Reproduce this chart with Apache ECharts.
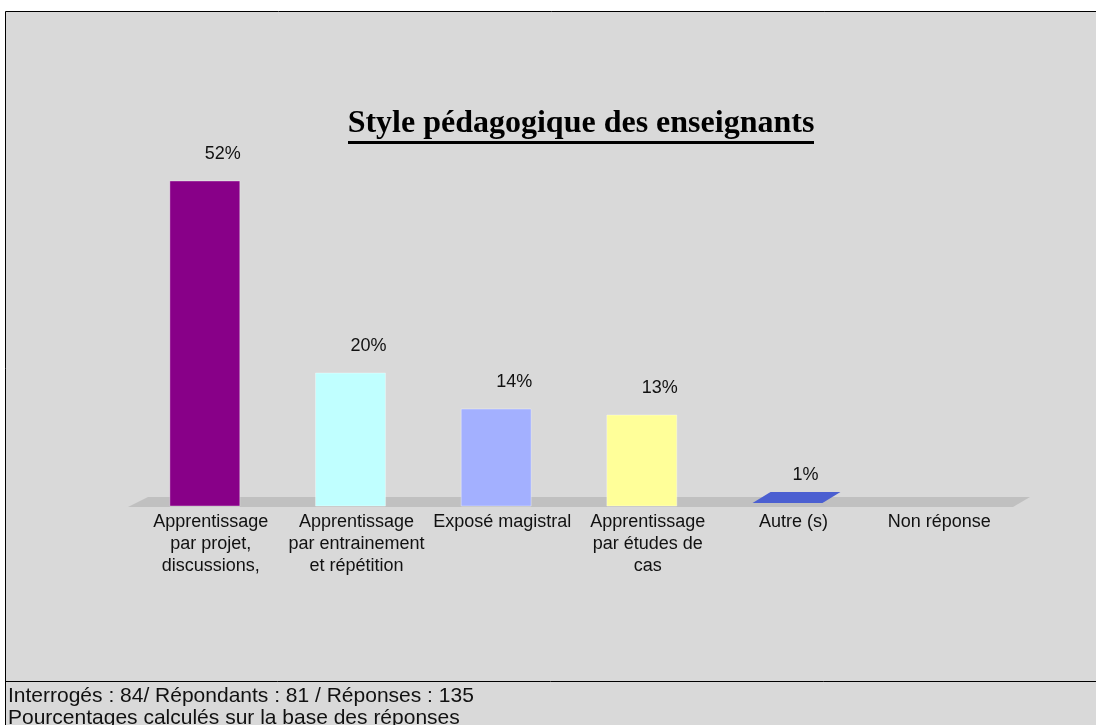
<!DOCTYPE html>
<html>
<head>
<meta charset="utf-8">
<title>Style pédagogique des enseignants</title>
<script src="https://cdn.jsdelivr.net/npm/echarts@6/dist/echarts.min.js"></script>
<style>
  html, body { margin: 0; padding: 0; background: #ffffff; }
  #main { width: 1096px; height: 725px; }
</style>
</head>
<body>
<div id="main"></div>
<script>
// données
const categories = [
  'Apprentissage\npar projet,\ndiscussions,',
  'Apprentissage\npar entrainement\net répétition',
  'Exposé magistral',
  'Apprentissage\npar études de\ncas',
  'Autre (s)',
  'Non réponse'
]
const values = [52, 20, 14, 13, 1, 0]
const barColors = ['#880088', '#c0ffff', '#a3b0ff', '#ffff99', '#4b5fd1', '#999999']
const footerLines = [
  'Interrogés : 84/ Répondants : 81 / Réponses : 135',
  'Pourcentages calculés sur la base des réponses'
]

const chart = echarts.init(document.getElementById('main'))

function renderBar (params, api) {
  const i = api.value(0)
  const v = api.value(1)
  if (!v) return
  const top = api.coord([i, v])
  const base = api.coord([i, 0])
  const w = api.size([1, 0])[0] * 0.48
  const x0 = top[0] - w / 2
  const x1 = top[0] + w / 2
  const front = base[1] + 13
  const color = barColors[i]
  const children = []
  let labelY
  if (v >= 2) {
    // face avant
    children.push({
      type: 'rect',
      shape: { x: x0, y: top[1], width: w, height: front - top[1] },
      style: { fill: color, stroke: 'rgba(255,255,255,0.35)', lineWidth: 1 }
    })
    labelY = top[1] - 27
  } else {
    // petite valeur : seulement la face du dessus
    const yb = base[1] + 10
    const yt = top[1] + 5
    children.push({
      type: 'polygon',
      shape: { points: [[x0, yb], [x1, yb], [x1 + 18, yt], [x0 + 18, yt]] },
      style: { fill: color }
    })
    labelY = yt - 17
  }
  children.push({
    type: 'text',
    style: {
      x: top[0] + 18,
      y: labelY,
      text: v + '%',
      align: 'center',
      verticalAlign: 'middle',
      fontSize: 18,
      fontFamily: 'Liberation Sans, Arial, sans-serif',
      fill: '#111111'
    }
  })
  return { type: 'group', children: children }
}

chart.setOption({
  backgroundColor: '#ffffff',
  animation: false,
  grid: { left: 132, right: 90, top: 133, bottom: 232 },
  xAxis: {
    type: 'category',
    data: categories,
    axisLine: { show: false },
    axisTick: { show: false },
    axisLabel: {
      interval: 0,
      margin: 18,
      padding: [0, 0, 0, 12],
      fontSize: 18,
      lineHeight: 22,
      color: '#111111',
      fontFamily: 'Liberation Sans, Arial, sans-serif',
      verticalAlign: 'top'
    }
  },
  yAxis: {
    type: 'value',
    min: 0,
    max: 60,
    show: false
  },
  graphic: [
    {
      // fond + cadre
      type: 'rect',
      z: -10,
      shape: { x: 5.5, y: 11.5, width: 1120, height: 740 },
      style: { fill: '#d9d9d9', stroke: '#000000', lineWidth: 1 }
    },
    {
      type: 'line',
      z: -9,
      shape: { x1: 5, y1: 681.5, x2: 1096, y2: 681.5 },
      style: { stroke: '#000000', lineWidth: 1 }
    },
    {
      // plancher 3D
      type: 'polygon',
      z: -5,
      shape: { points: [[128, 507], [1013, 507], [1030, 497], [148, 497]] },
      style: { fill: '#c0c0c0' }
    },
    {
      type: 'text',
      z: 1,
      style: {
        x: 581,
        y: 124,
        text: 'Style pédagogique des enseignants',
        align: 'center',
        verticalAlign: 'middle',
        fontSize: 32,
        fontWeight: 'bold',
        fontFamily: 'Liberation Serif, Times New Roman, serif',
        fill: '#000000'
      }
    },
    {
      type: 'rect',
      z: 1,
      shape: { x: 348, y: 141, width: 466, height: 3 },
      style: { fill: '#000000' }
    },
    {
      type: 'text',
      z: 1,
      style: {
        x: 8,
        y: 685,
        text: footerLines.join('\n'),
        lineHeight: 22,
        fontSize: 21,
        fontFamily: 'Liberation Sans, Arial, sans-serif',
        fill: '#111111'
      }
    }
  ],
  series: [
    {
      type: 'custom',
      z: 5,
      renderItem: renderBar,
      data: values.map((v, i) => [i, v])
    }
  ]
})
</script>
</body>
</html>
